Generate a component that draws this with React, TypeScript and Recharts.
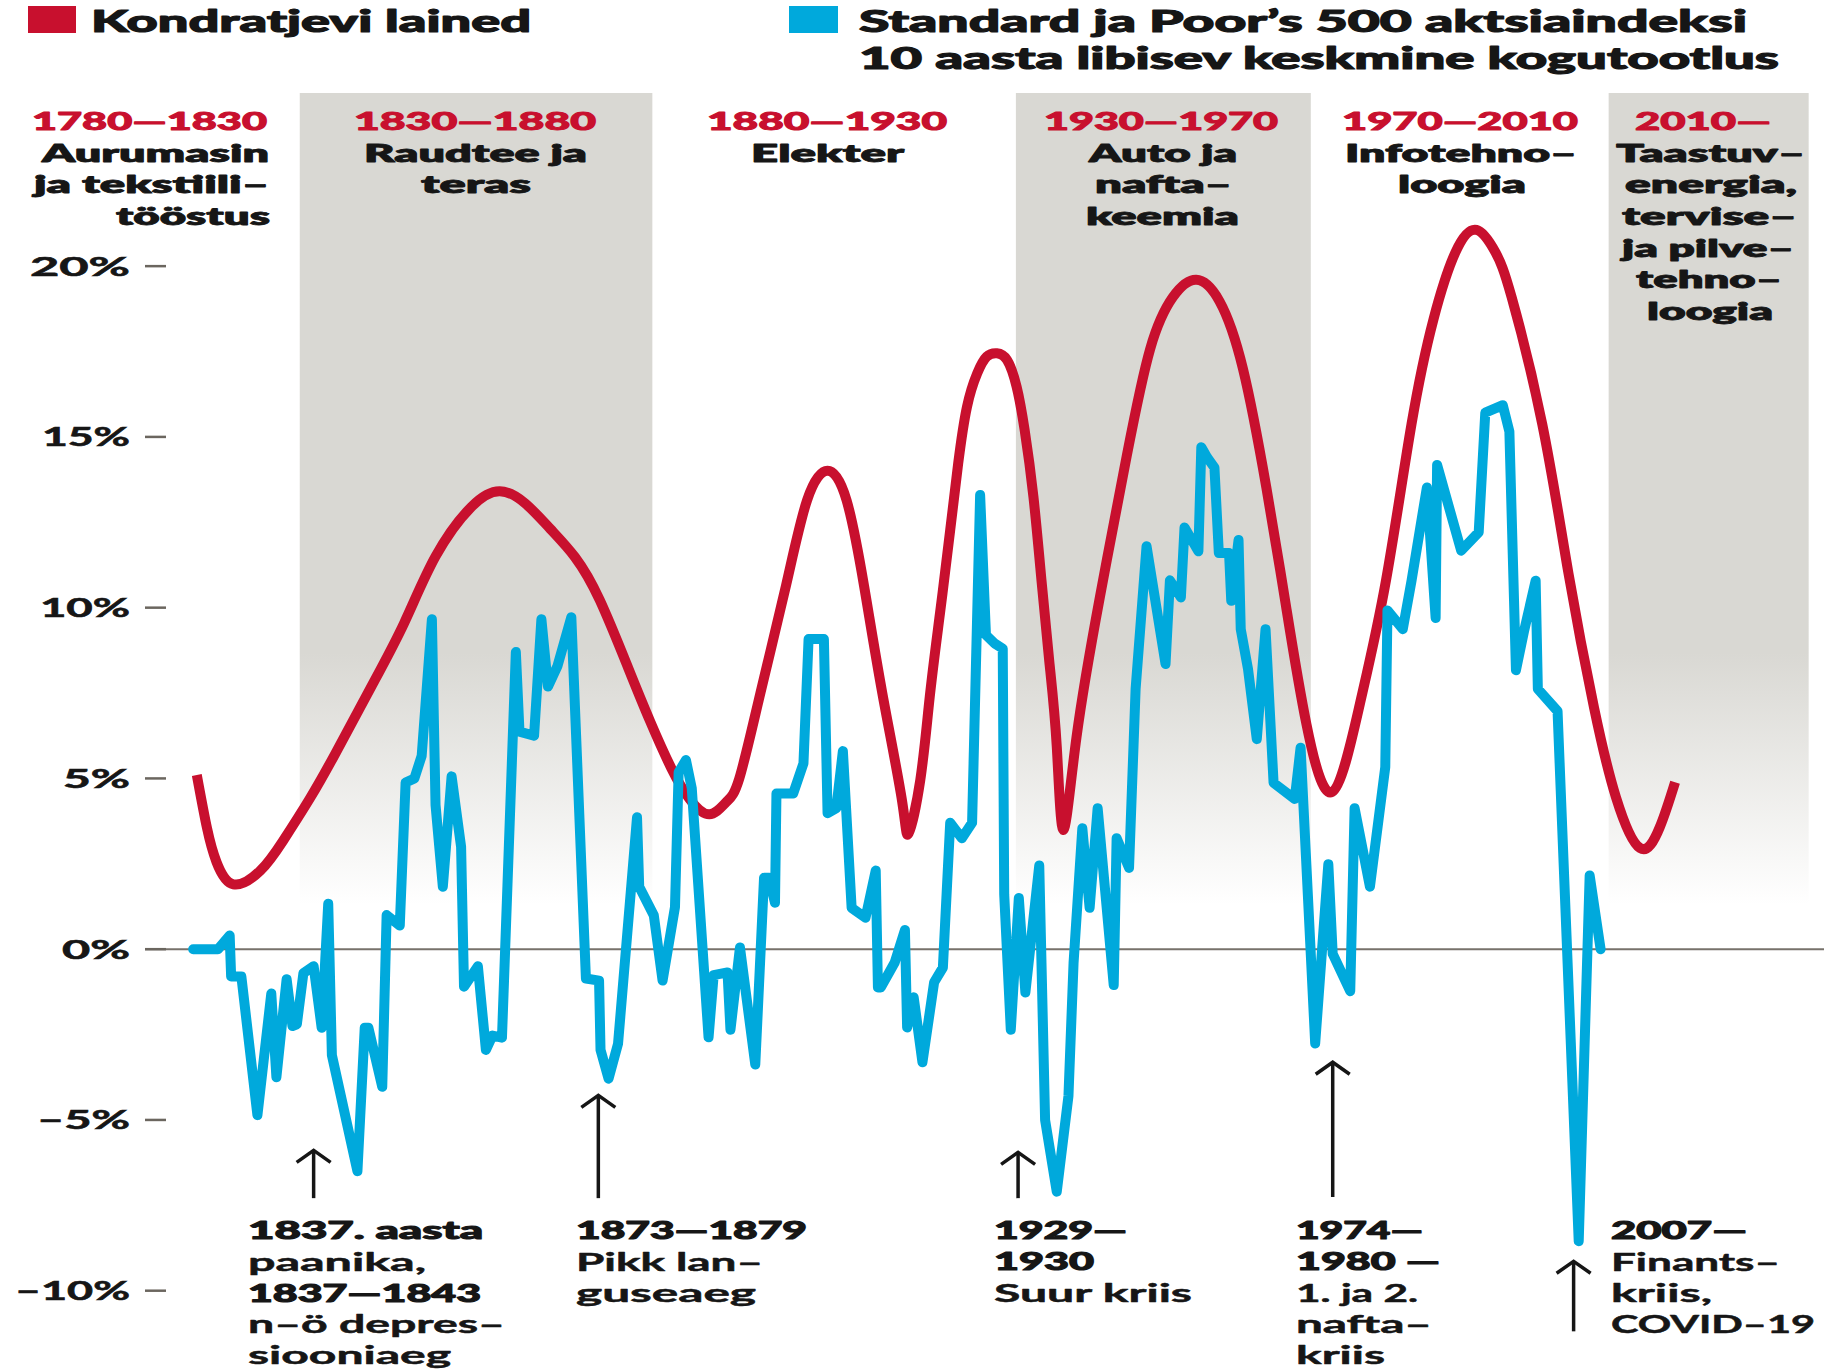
import { LineChart, Line, XAxis, YAxis, ReferenceArea, ReferenceLine } from "recharts";

const W = 1833;
const H = 1370;
const RED = "#c8102e";
const BLUE = "#00a9dc";
const INK = "#161616";
const BAND = "#d9d8d3";
const FONT = "Lato, 'Open Sans', sans-serif";

// Kondratjevi lained (punane kõver)
const kondYears = [1817.1, 1818.5, 1819.8, 1822.1, 1825.8, 1828.9, 1832.6, 1836.0, 1841.0, 1845.5, 1849.8, 1854.7, 1858.6, 1862.1, 1865.5, 1868.9, 1872.3, 1876.2, 1879.2, 1882.1, 1884.6, 1887.3, 1889.6, 1891.4, 1894.3, 1897.8, 1900.7, 1903.5, 1906.1, 1908.5, 1911.0, 1913.7, 1914.6, 1916.2, 1917.5, 1918.9, 1920.3, 1921.4, 1922.6, 1924.0, 1925.3, 1926.7, 1928.1, 1929.4, 1930.5, 1931.7, 1932.8, 1933.9, 1934.9, 1935.8, 1937.6, 1940.8, 1944.5, 1947.7, 1950.8, 1954.0, 1957.2, 1960.4, 1963.6, 1966.3, 1969.1, 1972.6, 1976.4, 1980.0, 1983.5, 1986.5, 1989.5, 1992.4, 1995.0, 1997.2, 2001.4, 2005.0, 2008.5, 2011.5, 2014.8, 2017.5, 2019.6];
const kondValues = [5.1, 3.54, 2.55, 1.9, 2.3, 3.17, 4.42, 5.7, 7.69, 9.55, 11.5, 12.95, 13.41, 13.05, 12.31, 11.48, 10.22, 8.23, 6.67, 5.3, 4.4, 3.95, 4.3, 4.99, 7.5, 10.64, 13.15, 14.01, 13.15, 10.64, 7.5, 4.35, 3.39, 4.95, 7.39, 9.83, 12.27, 14.23, 15.88, 16.86, 17.35, 17.45, 17.25, 16.47, 15.2, 13.25, 10.81, 8.37, 5.93, 3.49, 6.2, 10.3, 14.46, 17.58, 19.09, 19.6, 18.97, 17.0, 13.53, 10.05, 6.59, 4.6, 7.16, 10.8, 15.38, 18.44, 20.4, 21.06, 20.4, 19.1, 15.38, 11.0, 7.07, 4.45, 2.96, 3.57, 4.89];

// S&P 500 10 aasta libisev keskmine kogutootlus (sinine joon)
const spYears = [1816.6, 1820.0, 1821.6, 1821.8, 1823.2, 1825.4, 1827.3, 1828.0, 1829.4, 1830.2, 1830.8, 1831.7, 1833.1, 1834.2, 1835.1, 1835.6, 1839.1, 1840.1, 1840.6, 1842.5, 1843.1, 1844.9, 1845.7, 1846.9, 1847.9, 1849.3, 1849.8, 1850.8, 1852.0, 1853.3, 1853.7, 1855.6, 1856.7, 1857.6, 1858.9, 1860.8, 1861.3, 1863.3, 1864.3, 1865.2, 1866.5, 1868.4, 1870.4, 1872.2, 1872.4, 1873.5, 1874.8, 1877.4, 1877.7, 1879.7, 1880.9, 1882.6, 1883.1, 1884.1, 1884.9, 1887.2, 1887.9, 1889.8, 1890.2, 1891.5, 1893.6, 1894.8, 1895.5, 1896.3, 1896.5, 1898.8, 1900.2, 1900.9, 1903.0, 1903.5, 1904.7, 1905.6, 1906.8, 1908.7, 1910.1, 1910.4, 1910.8, 1912.7, 1914.1, 1914.4, 1915.3, 1916.5, 1918.1, 1919.3, 1920.3, 1921.9, 1923.3, 1924.4, 1925.2, 1926.4, 1927.5, 1927.7, 1928.6, 1929.7, 1930.6, 1932.5, 1933.3, 1934.9, 1936.5, 1937.2, 1938.4, 1939.4, 1940.5, 1942.7, 1943.1, 1944.8, 1945.7, 1947.2, 1949.8, 1950.4, 1951.9, 1952.4, 1954.3, 1954.7, 1955.5, 1956.5, 1957.1, 1958.5, 1958.8, 1959.8, 1960.1, 1961.1, 1962.3, 1963.5, 1964.6, 1967.5, 1968.3, 1970.3, 1972.1, 1972.7, 1975.1, 1975.7, 1977.8, 1979.9, 1980.2, 1982.3, 1983.5, 1985.6, 1986.8, 1987.0, 1990.3, 1992.7, 1993.6, 1996.0, 1996.9, 1997.8, 1998.9, 2000.5, 2000.8, 2003.5, 2006.4, 2007.9, 2009.4];
const spValues = [0, 0, 0.4, -0.8, -0.8, -4.86, -1.3, -3.75, -0.88, -2.25, -2.2, -0.7, -0.5, -2.3, 1.33, -3.1, -6.5, -2.3, -2.3, -4.03, 1.0, 0.69, 4.88, 5.0, 5.66, 9.66, 4.22, 1.83, 5.06, 3.0, -1.1, -0.5, -2.95, -2.53, -2.59, 8.7, 6.37, 6.25, 9.66, 7.69, 8.29, 9.72, -0.86, -0.92, -2.95, -3.79, -2.77, 3.86, 1.83, 0.99, -0.92, 1.23, 5.18, 5.54, 4.71, -2.58, -0.76, -0.68, -2.36, 0.05, -3.38, 2.09, 2.09, 1.36, 4.56, 4.56, 5.44, 9.08, 9.08, 3.98, 4.13, 5.8, 1.21, 0.92, 2.3, -1.12, -1.12, -0.39, 0.56, -2.29, -1.41, -3.31, -0.97, -0.54, 3.7, 3.25, 3.7, 13.3, 9.2, 8.95, 8.8, 1.6, -2.36, 1.5, -1.27, 2.45, -5.0, -7.1, -4.3, -0.4, 3.54, 1.21, 4.13, -1.05, 3.25, 2.38, 7.62, 11.8, 8.35, 10.8, 10.3, 12.35, 11.65, 14.7, 14.4, 14.1, 11.6, 11.6, 10.2, 11.98, 9.37, 8.2, 6.15, 9.37, 4.87, 4.4, 5.9, -2.76, 2.49, -0.14, -1.23, 4.13, 1.83, 5.33, 9.92, 9.37, 10.79, 13.52, 9.7, 14.18, 11.67, 12.21, 15.71, 15.93, 15.16, 8.17, 9.3, 10.79, 7.62, 6.97, -8.55, 2.16, 0.0];

const yTicks = [-10, -5, 0, 5, 10, 15, 20];
const tickWidths: Record<string, number> = { "20": 100, "15": 88, "10": 90, "5": 67, "0": 68, "-5": 93, "-10": 115 };

// hallid ajastute ribad
const bandStarts = [1831.2, 1929.3, 2010.5];
const bandEnds = [1879.5, 1969.7, 2037.9];

// kriiside nooled: aasta, noole ots, noole alus
const arrowYears = [1833.1, 1872.1, 1929.6, 1972.7, 2005.7];
const arrowTips = [-5.86, -4.25, -5.92, -3.28, -9.11];
const arrowBases = [-7.29, -7.29, -7.29, -7.26, -11.19];

const Y_MIN = -12;
const Y_MAX = 25.07;

const kondData = kondYears.map((year, i) => ({ year, v: kondValues[i] }));
const spData = spYears.map((year, i) => ({ year, v: spValues[i] }));

type Txt = [string, number, number, number];

const legendTexts: Txt[] = [
  ["Kondratjevi lained", 91, 32, 440],
  ["Standard ja Poor’s 500 aktsiaindeksi", 859, 32, 888],
  ["10 aasta libisev keskmine kogutootlus", 859, 69, 920],
];

const eraYears: Txt[] = [
  ["1780—1830", 32, 130, 235],
  ["1830—1880", 354, 130, 242],
  ["1880—1930", 707, 130, 240],
  ["1930—1970", 1044, 130, 234],
  ["1970—2010", 1342, 130, 236],
  ["2010—", 1635, 130, 136],
];

const eraNames: Txt[] = [
  ["Aurumasin", 42, 162, 227],
  ["ja tekstiili–", 34, 193, 235],
  ["tööstus", 116, 225, 154],
  ["Raudtee ja", 364, 162, 223],
  ["teras", 421, 193, 110],
  ["Elekter", 751, 162, 153],
  ["Auto ja", 1089, 162, 148],
  ["nafta–", 1095, 193, 137],
  ["keemia", 1086, 225, 153],
  ["Infotehno–", 1345, 162, 232],
  ["loogia", 1398, 193, 128],
  ["Taastuv–", 1616, 162, 189],
  ["energia,", 1625, 193, 172],
  ["tervise–", 1622, 225, 175],
  ["ja pilve–", 1622, 257, 172],
  ["tehno–", 1636, 288, 146],
  ["loogia", 1647, 320, 126],
];

const noteDates: Txt[] = [
  ["1837. aasta", 248, 1239, 235],
  ["1837—1843", 248, 1302, 233],
  ["1873—1879", 576, 1239, 231],
  ["1929—", 994, 1239, 133],
  ["1930", 994, 1270, 100],
  ["1974—", 1296, 1239, 127],
  ["1980 —", 1296, 1270, 144],
  ["2007—", 1611, 1239, 136],
];

const noteTexts: Txt[] = [
  ["paanika,", 248, 1271, 178],
  ["n–ö depres–", 248, 1333, 257],
  ["siooniaeg", 248, 1364, 203],
  ["Pikk lan–", 576, 1271, 187],
  ["guseaeg", 576, 1302, 180],
  ["Suur kriis", 994, 1302, 198],
  ["1. ja 2.", 1296, 1302, 122],
  ["nafta–", 1296, 1333, 136],
  ["kriis", 1296, 1364, 89],
  ["Finants–", 1611, 1271, 169],
  ["kriis,", 1611, 1302, 101],
  ["COVID–19", 1611, 1333, 204],
];

const Stretch = ({ t, size, weight, fill, bold }: { t: Txt; size: number; weight: number; fill: string; bold: number }) => (
  <text
    x={t[1]}
    y={t[2]}
    textLength={t[3]}
    lengthAdjust="spacingAndGlyphs"
    fontFamily={FONT}
    fontSize={size}
    fontWeight={weight}
    fill={fill}
    stroke={fill}
    strokeWidth={bold}
    strokeLinejoin="round"
  >
    {t[0]}
  </text>
);

const YTick = (props: any) => {
  const { y, payload } = props;
  const v = payload.value as number;
  const label = (v < 0 ? "–" : "") + Math.abs(v) + "%";
  const w = tickWidths[String(v)] ?? 80;
  return (
    <g>
      <text
        x={130 - w}
        y={y + 9.5}
        textLength={w}
        lengthAdjust="spacingAndGlyphs"
        fontFamily={FONT}
        fontSize={26}
        fontWeight={700}
        fill={INK}
        stroke={INK}
        strokeWidth={0.6}
      >
        {label}
      </text>
      <line x1={145} x2={166} y1={y} y2={y} stroke="#6b665f" strokeWidth={2.5} />
    </g>
  );
};

const Arrow = (p: any) => {
  const x = p.x1;
  const top = Math.min(p.y1, p.y2);
  const bot = Math.max(p.y1, p.y2);
  return (
    <g>
      <line x1={x} x2={x} y1={top + 2} y2={bot} stroke={INK} strokeWidth={3.5} />
      <polyline
        points={`${x - 17},${top + 13} ${x},${top + 1} ${x + 17},${top + 13}`}
        fill="none"
        stroke={INK}
        strokeWidth={3.5}
      />
    </g>
  );
};

export default function App() {
  return (
    <div style={{ position: "absolute", left: 0, top: 0, width: W, height: H, background: "#fff", overflow: "hidden" }}>
      <svg width={0} height={0} style={{ position: "absolute" }}>
        <defs>
          <linearGradient id="bandFade" x1="0" y1="0" x2="0" y2="1">
            <stop offset="0" stopColor={BAND} />
            <stop offset="0.69" stopColor={BAND} />
            <stop offset="1" stopColor="#ffffff" />
          </linearGradient>
        </defs>
      </svg>
      <LineChart width={W} height={H} margin={{ top: 93, right: 9, bottom: 11, left: 0 }}>
        <XAxis type="number" dataKey="year" domain={[1810, 2040]} allowDataOverflow hide />
        <YAxis
          type="number"
          domain={[Y_MIN, Y_MAX]}
          ticks={yTicks}
          interval={0}
          width={145}
          axisLine={false}
          tickLine={false}
          tick={YTick}
          allowDataOverflow
        />
        {bandStarts.map((x1, i) => (
          <ReferenceArea
            key={`band-${i}`}
            x1={x1}
            x2={bandEnds[i]}
            y1={1.3}
            y2={Y_MAX}
            fill="url(#bandFade)"
            fillOpacity={1}
            stroke="none"
            ifOverflow="visible"
          />
        ))}
        <ReferenceLine y={0} stroke="#77726b" strokeWidth={2} />
        {arrowYears.map((year, i) => (
          <ReferenceLine
            key={`arrow-${i}`}
            segment={[
              { x: year, y: arrowTips[i] },
              { x: year, y: arrowBases[i] },
            ]}
            ifOverflow="visible"
            shape={Arrow}
          />
        ))}
        <Line
          data={kondData}
          dataKey="v"
          type="natural"
          stroke={RED}
          strokeWidth={10}
          dot={false}
          activeDot={false}
          isAnimationActive={false}
        />
        <Line
          data={spData}
          dataKey="v"
          type="linear"
          stroke={BLUE}
          strokeWidth={10}
          strokeLinejoin="round"
          strokeLinecap="round"
          dot={false}
          activeDot={false}
          isAnimationActive={false}
        />
      </LineChart>
      <svg width={W} height={H} style={{ position: "absolute", left: 0, top: 0, pointerEvents: "none" }}>
        <rect x={28} y={6} width={48} height={27} fill={RED} />
        <rect x={789} y={6} width={49} height={27} fill={BLUE} />
        {legendTexts.map((t, i) => (
          <Stretch key={`lg-${i}`} t={t} size={30} weight={900} fill={INK} bold={1.1} />
        ))}
        {eraYears.map((t, i) => (
          <Stretch key={`ey-${i}`} t={t} size={25} weight={900} fill={RED} bold={1.0} />
        ))}
        {eraNames.map((t, i) => (
          <Stretch key={`en-${i}`} t={t} size={25} weight={800} fill={INK} bold={0.8} />
        ))}
        {noteDates.map((t, i) => (
          <Stretch key={`nd-${i}`} t={t} size={25} weight={900} fill={INK} bold={1.1} />
        ))}
        {noteTexts.map((t, i) => (
          <Stretch key={`nt-${i}`} t={t} size={25} weight={700} fill={INK} bold={0.5} />
        ))}
      </svg>
    </div>
  );
}
